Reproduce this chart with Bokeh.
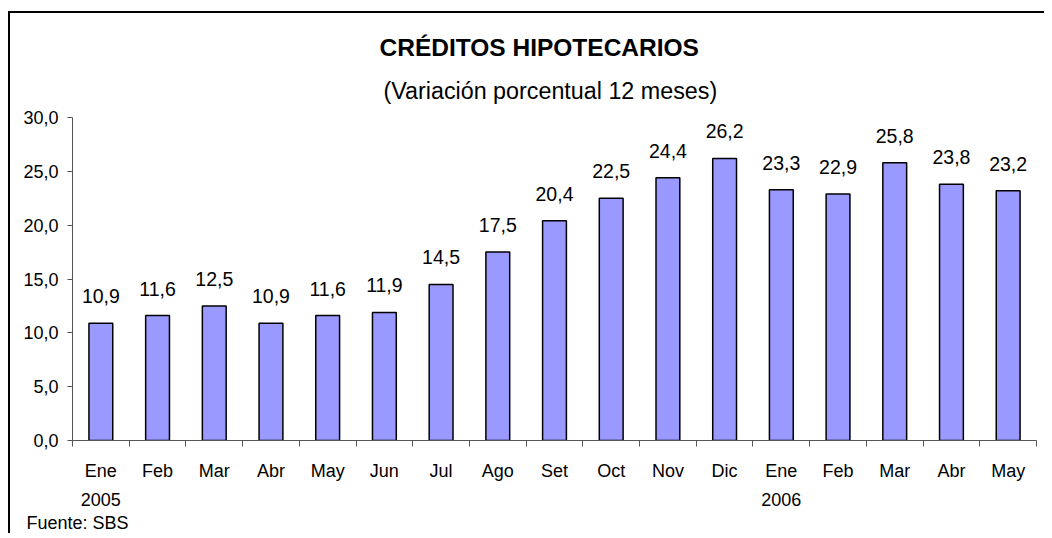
from bokeh.plotting import figure
from bokeh.models import Range1d, FixedTicker, Title, ColumnDataSource, LinearAxis
from bokeh.core.properties import value
from bokeh.embed import file_html
from bokeh.resources import INLINE

months = ["Ene", "Feb", "Mar", "Abr", "May", "Jun", "Jul", "Ago", "Set",
          "Oct", "Nov", "Dic", "Ene", "Feb", "Mar", "Abr", "May"]
years = ["2005", "", "", "", "", "", "", "", "", "", "", "", "2006", "", "", "", ""]
values = [10.9, 11.6, 12.5, 10.9, 11.6, 11.9, 14.5, 17.5, 20.4,
          22.5, 24.4, 26.2, 23.3, 22.9, 25.8, 23.8, 23.2]
y_ticks = [0, 5, 10, 15, 20, 25, 30]

title_text = "CRÉDITOS HIPOTECARIOS"
subtitle_text = "(Variación porcentual 12 meses)"
source_text = "Fuente: SBS"

FONT = "Liberation Sans"
n = len(months)
xs = [i + 0.5 for i in range(n)]
labels = [f"{v:.1f}".replace(".", ",") for v in values]
src = ColumnDataSource(dict(x=xs, top=values, label=labels))

p = figure(width=1036, height=522, output_backend="svg", toolbar_location=None,
           x_range=Range1d(0, n), y_range=Range1d(0, 30),
           min_border_left=62, min_border_right=10, min_border_top=104,
           min_border_bottom=94)
p.styles = {"border-left": "2px solid black", "border-top": "2px solid black",
            "margin-top": "11px", "margin-left": "8px"}
p.outline_line_color = None
p.xgrid.visible = False
p.ygrid.visible = False
p.background_fill_color = "white"
p.border_fill_color = "white"

p.vbar(x="x", top="top", width=0.42, bottom=0, source=src,
       fill_color="#9999FF", line_color="black", line_width=1.5)
p.text(x="x", y="top", text="label", source=src, text_align="center",
       text_baseline="alphabetic", y_offset=-27, text_font=value(FONT),
       text_font_size="19.5px", text_color="black")

# titles
p.title.text = title_text
p.title.align = "left"
p.title.offset = 307
p.title.text_font = FONT
p.title.text_font_size = "24.5px"
p.title.text_font_style = "bold"
p.title.text_color = "black"
p.title.standoff = 2
p.add_layout(Title(text=subtitle_text, align="left", offset=311, text_font=FONT,
                   text_font_size="23.3px", text_font_style="normal",
                   text_color="black", standoff=28), "above")

# y axis
ya = p.yaxis[0]
ya.ticker = FixedTicker(ticks=y_ticks, minor_ticks=[])
ya.major_label_overrides = {t: f"{t:.1f}".replace(".", ",") for t in y_ticks}
ya.major_label_text_font = FONT
ya.major_label_text_font_size = "18px"
ya.major_label_text_color = "black"
ya.major_tick_out = 5
ya.major_tick_in = 0
ya.minor_tick_line_color = None
ya.axis_line_color = "#555555"
ya.major_tick_line_color = "#555555"
ya.major_label_standoff = 9

# x axis
xa = p.xaxis[0]
xa.ticker = FixedTicker(ticks=xs, minor_ticks=list(range(n + 1)))
xa.major_label_overrides = {x: (m + ("\n" + y if y else "")) for x, m, y in zip(xs, months, years)}
xa.major_label_text_font = FONT
xa.major_label_text_font_size = "18px"
xa.major_label_text_color = "black"
xa.major_label_text_line_height = 1.45
xa.major_tick_out = 0
xa.major_tick_in = 0
xa.minor_tick_out = 6
xa.minor_tick_in = 0
xa.axis_line_color = "#555555"
xa.minor_tick_line_color = "#555555"
xa.major_label_standoff = 14

# source note as a label-only axis under the month axis
src_pos = 0.09
note_axis = LinearAxis(ticker=FixedTicker(ticks=[src_pos], minor_ticks=[]),
                       major_label_overrides={src_pos: source_text},
                       axis_line_color=None, major_tick_line_color=None,
                       minor_tick_line_color=None, major_tick_out=0,
                       major_tick_in=0, major_label_standoff=0,
                       major_label_text_font=FONT,
                       major_label_text_font_size="18px",
                       major_label_text_color="black")
p.add_layout(note_axis, "below")

open("out.html", "w").write(file_html(p, INLINE))
